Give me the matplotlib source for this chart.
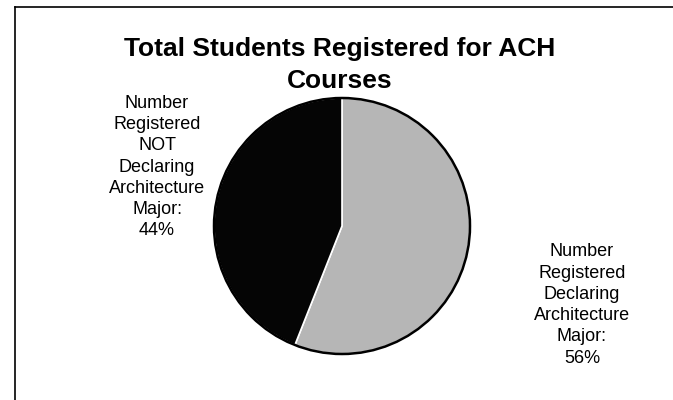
import matplotlib
matplotlib.use("Agg")
import matplotlib.pyplot as plt
from matplotlib.lines import Line2D
from matplotlib.patches import Circle

plt.rcParams['font.family'] = ['Liberation Sans', 'DejaVu Sans']

title = "Total Students Registered for ACH\nCourses"
categories = ["Number\nRegistered\nDeclaring\nArchitecture\nMajor:",
              "Number\nRegistered\nNOT\nDeclaring\nArchitecture\nMajor:"]
values = [56, 44]
colors = ['#b6b6b6', '#050505']

fig = plt.figure(figsize=(6.73, 4.0), dpi=100)
ax = fig.add_axes([0, 0, 1, 1])

cx, cy, r = 342, 174, 128
wedges, _ = ax.pie(values, colors=colors, startangle=90, counterclock=False,
                   center=(cx, cy), radius=r,
                   wedgeprops=dict(edgecolor='white', linewidth=1.2))
ax.add_patch(Circle((cx, cy), r, fill=False, edgecolor='black', linewidth=1.8))
ax.set_xlim(0, 673)
ax.set_ylim(0, 400)
ax.set_aspect('auto')
ax.axis('off')

# labels
ax.text(582, 95, f"{categories[0]}\n{values[0]}%", ha='center', va='center',
        fontsize=13, linespacing=1.33)
ax.text(157, 233, f"{categories[1]}\n{values[1]}%", ha='center', va='center',
        fontsize=13, linespacing=1.33)

ax.text(340, 335, title, ha='center', va='center', fontsize=19,
        fontweight='bold', linespacing=1.43)

# frame lines (left and top)
fig.add_artist(Line2D([15/673, 15/673], [0, 1 - 7/400], transform=fig.transFigure,
                      color='black', linewidth=1.2))
fig.add_artist(Line2D([15/673, 1], [1 - 7/400, 1 - 7/400], transform=fig.transFigure,
                      color='black', linewidth=1.2))

fig.savefig("out.png", dpi=100, facecolor='white')
